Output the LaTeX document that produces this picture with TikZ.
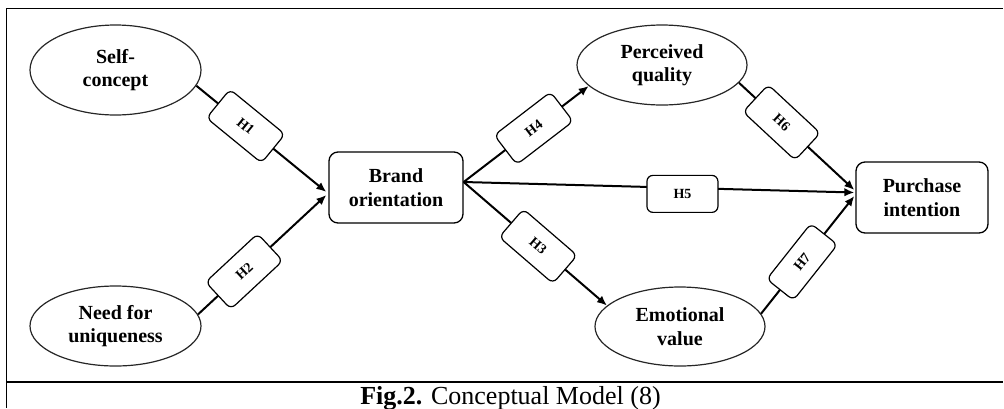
\documentclass[tikz,border=0pt]{standalone}
\usepackage{fontspec}
\setmainfont{Liberation Serif}
\usetikzlibrary{shapes.geometric,arrows.meta,calc}
\begin{document}
\begin{tikzpicture}[x=1pt,y=-1pt,
  ell/.style={ellipse,draw=black!85,line width=1.2pt,inner sep=0pt,
    font=\bfseries\fontsize{20}{23.5}\selectfont,align=center},
  cbox/.style={rectangle,rounded corners=9pt,draw,line width=1.3pt,inner sep=0pt,
    font=\bfseries\fontsize{20}{23.5}\selectfont,align=center},
  hyp/.style={rectangle,rounded corners=6pt,draw,line width=1.2pt,fill=white,
    minimum width=71pt,minimum height=37pt,inner sep=0pt,
    font=\bfseries\fontsize{14}{16}\selectfont},
  conn/.style={line width=2pt,-{Latex[length=10pt,width=8.5pt]}},
  framel/.style={line width=1.8pt}]
\useasboundingbox (0,0) rectangle (1004,408);

% frame
\draw[framel] (6,8.5) -- (1003,8.5);
\draw[framel] (6.5,8) -- (6.5,408);
\draw[framel] (6,382) -- (1003,382);

% nodes
\node[ell,minimum width=171pt,minimum height=90pt] (sc) at (115.5,70) {Self-\\concept};
\node[ell,minimum width=171pt,minimum height=80pt] (nu) at (115.5,326) {Need for\\uniqueness};
\node[ell,minimum width=170pt,minimum height=80pt] (pq) at (662,65) {Perceived\\quality};
\node[ell,minimum width=170pt,minimum height=79pt] (ev) at (680,326.5) {Emotional\\value};
\node[cbox,minimum width=134pt,minimum height=71pt] (bo) at (396,187.5) {Brand\\orientation};
\node[cbox,minimum width=132pt,minimum height=71pt] (pi) at (922,197.5) {Purchase\\intention};

% connector end points
\coordinate (bo1) at ($(bo.west)+(-2,4.5)$);
\coordinate (bo2) at ($(bo.west)+(-2,7.5)$);
\coordinate (boe) at ($(bo.east)+(0,-5.5)$);
\coordinate (pi1) at ($(pi.west)+(-1,-7.5)$);
\coordinate (pi2) at ($(pi.west)+(-1,-5)$);
\coordinate (pi3) at ($(pi.west)+(-1,-1.5)$);

% connectors
\draw[conn] (sc.-11) -- node[hyp,sloped,pos=0.38] (h1) {H1} (bo1);
\draw[conn] (nu.8) -- node[hyp,sloped,pos=0.36] (h2) {H2} (bo2);
\draw[conn] (boe) -- node[hyp,sloped,pos=0.56] (h4) {H4} (pq.196);
\draw[conn] (boe) -- node[hyp,pos=0.56,yshift=-6pt] (h5) {H5} (pi2);
\draw[conn] (boe) -- node[hyp,sloped,pos=0.52] (h3) {H3} (ev.164);
\draw[conn] (pq.-13) -- node[hyp,sloped,pos=0.37] (h6) {H6} (pi1);
\draw[conn] (ev.9) -- node[hyp,sloped,pos=0.44,minimum height=34pt] (h7) {H7} (pi3);

% caption
\node[font=\fontsize{26}{30}\selectfont,anchor=base,inner sep=0pt] (cap) at (510.5,404) {\textbf{Fig.2.} Conceptual Model (8)};
\end{tikzpicture}
\end{document}
